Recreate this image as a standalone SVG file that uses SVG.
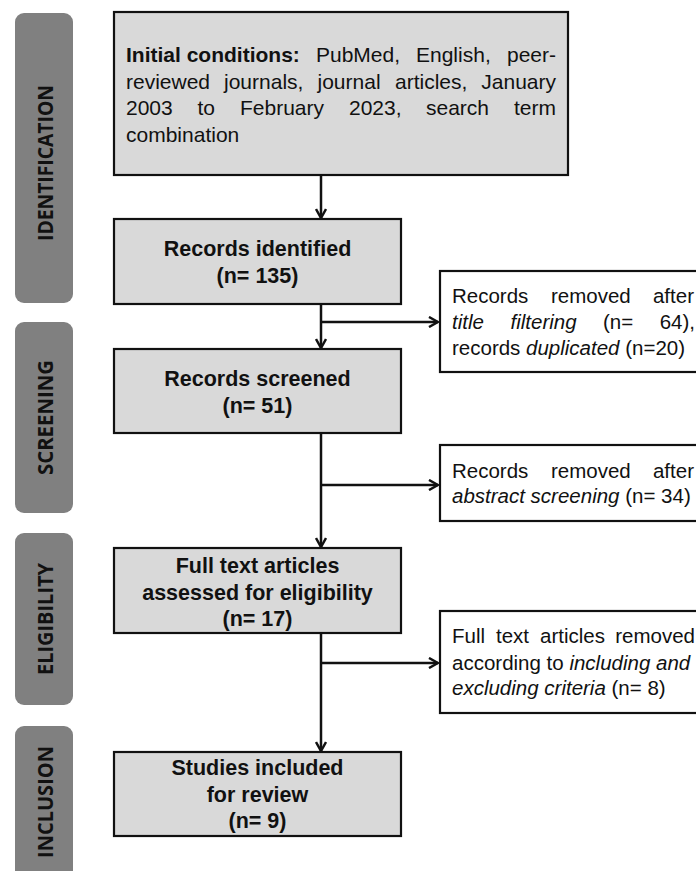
<svg xmlns="http://www.w3.org/2000/svg" width="696" height="871" viewBox="0 0 696 871">
<defs>
<style>
.lab{fill:#808080}
.labt{font-family:"Open Sans",sans-serif;font-weight:bold;font-size:22px;fill:#111;text-anchor:middle}
.box{fill:#d9d9d9;stroke:#111;stroke-width:2.2}
.wbox{fill:#fff;stroke:#111;stroke-width:2.2}
.t{font-family:"Liberation Sans",Arial,sans-serif;font-size:21.5px;fill:#111}
.s{font-size:21px}
.r{font-size:20.5px}
.b{font-weight:bold}
.c{text-anchor:middle}
.e{text-anchor:end}
.i{font-style:italic}
.ln{stroke:#111;stroke-width:2.5;fill:none}
</style>
<marker id="ah" viewBox="0 0 12 12" refX="11" refY="6" markerWidth="12" markerHeight="12" markerUnits="userSpaceOnUse" orient="auto">
<path d="M2,1 L11,6 L2,11" fill="none" stroke="#111" stroke-width="2.5"/>
</marker>
</defs>
<rect width="696" height="871" fill="#fff"/>

<g id="label-identification">
<rect class="lab" x="15" y="13" width="58" height="290" rx="9"/>
<text class="labt" transform="translate(53,163) rotate(-90)" textLength="156" lengthAdjust="spacingAndGlyphs">IDENTIFICATION</text>
</g>
<g id="label-screening">
<rect class="lab" x="15" y="322" width="58" height="191" rx="9"/>
<text class="labt" transform="translate(53,417.5) rotate(-90)" textLength="115" lengthAdjust="spacingAndGlyphs">SCREENING</text>
</g>
<g id="label-eligibility">
<rect class="lab" x="15" y="533" width="58" height="172" rx="9"/>
<text class="labt" transform="translate(53,619) rotate(-90)" textLength="112" lengthAdjust="spacingAndGlyphs">ELIGIBILITY</text>
</g>
<g id="label-inclusion">
<rect class="lab" x="15" y="726" width="58" height="180" rx="9"/>
<text class="labt" transform="translate(53,802) rotate(-90)" textLength="112" lengthAdjust="spacingAndGlyphs">INCLUSION</text>
</g>

<g id="connectors">
<line class="ln" x1="321" y1="175" x2="321" y2="218" marker-end="url(#ah)"/>
<line class="ln" x1="321" y1="304" x2="321" y2="348" marker-end="url(#ah)"/>
<line class="ln" x1="321" y1="433" x2="321" y2="547" marker-end="url(#ah)"/>
<line class="ln" x1="321" y1="633" x2="321" y2="751" marker-end="url(#ah)"/>
<line class="ln" x1="321" y1="322" x2="438" y2="322" marker-end="url(#ah)"/>
<line class="ln" x1="321" y1="485" x2="438" y2="485" marker-end="url(#ah)"/>
<line class="ln" x1="321" y1="663" x2="438" y2="663" marker-end="url(#ah)"/>
</g>

<g id="initial-conditions">
<rect class="box" x="114" y="12" width="454" height="163"/>
<text class="t s b" x="126" y="62">Initial conditions:</text>
<text class="t s" x="316" y="62">PubMed,</text>
<text class="t s" x="416" y="62">English,</text>
<text class="t s e" x="556" y="62">peer-</text>
<text class="t s" x="126" y="88.5">reviewed</text>
<text class="t s" x="224" y="88.5">journals,</text>
<text class="t s" x="317.5" y="88.5">journal</text>
<text class="t s" x="395" y="88.5">articles,</text>
<text class="t s e" x="556" y="88.5">January</text>
<text class="t s" x="126" y="115">2003</text>
<text class="t s" x="197.5" y="115">to</text>
<text class="t s" x="240" y="115">February</text>
<text class="t s" x="349" y="115">2023,</text>
<text class="t s" x="426" y="115">search</text>
<text class="t s e" x="556" y="115">term</text>
<text class="t s" x="126" y="141.5">combination</text>
</g>

<g id="records-identified">
<rect class="box" x="114" y="219" width="287" height="85"/>
<text class="t b c" x="257.5" y="256">Records identified</text>
<text class="t b c" x="257.5" y="283">(n= 135)</text>
</g>

<g id="removed-title">
<rect class="wbox" x="440" y="271" width="290" height="101"/>
<text class="t r" x="452" y="303">Records</text>
<text class="t r" x="551" y="303">removed</text>
<text class="t r e" x="694" y="303">after</text>
<text class="t r i" x="452" y="329">title</text>
<text class="t r i" x="510.5" y="329">filtering</text>
<text class="t r" x="603" y="329">(n=</text>
<text class="t r e" x="695" y="329">64),</text>
<text class="t r" x="452" y="355">records <tspan class="i">duplicated</tspan> (n=20)</text>
</g>

<g id="records-screened">
<rect class="box" x="114" y="349" width="287" height="84"/>
<text class="t b c" x="257.5" y="386">Records screened</text>
<text class="t b c" x="257.5" y="413">(n= 51)</text>
</g>

<g id="removed-abstract">
<rect class="wbox" x="440" y="445" width="290" height="76"/>
<text class="t r" x="452" y="478">Records</text>
<text class="t r" x="551" y="478">removed</text>
<text class="t r e" x="694" y="478">after</text>
<text class="t r" x="452" y="503"><tspan class="i">abstract screening</tspan> (n= 34)</text>
</g>

<g id="full-text">
<rect class="box" x="114" y="548" width="287" height="85"/>
<text class="t b c" x="257.5" y="573">Full text articles</text>
<text class="t b c" x="257.5" y="599.5">assessed for eligibility</text>
<text class="t b c" x="257.5" y="626">(n= 17)</text>
</g>

<g id="removed-criteria">
<rect class="wbox" x="440" y="611" width="290" height="102"/>
<text class="t r" x="452" y="643">Full</text>
<text class="t r" x="496" y="643">text</text>
<text class="t r" x="540" y="643">articles</text>
<text class="t r e" x="695" y="643">removed</text>
<text class="t r" x="452" y="670">according to <tspan class="i">including and</tspan></text>
<text class="t r" x="452" y="695"><tspan class="i">excluding criteria</tspan> (n= 8)</text>
</g>

<g id="studies-included">
<rect class="box" x="114" y="752" width="287" height="84"/>
<text class="t b c" x="257.5" y="774.5">Studies included</text>
<text class="t b c" x="257.5" y="801.5">for review</text>
<text class="t b c" x="257.5" y="828">(n= 9)</text>
</g>
</svg>
